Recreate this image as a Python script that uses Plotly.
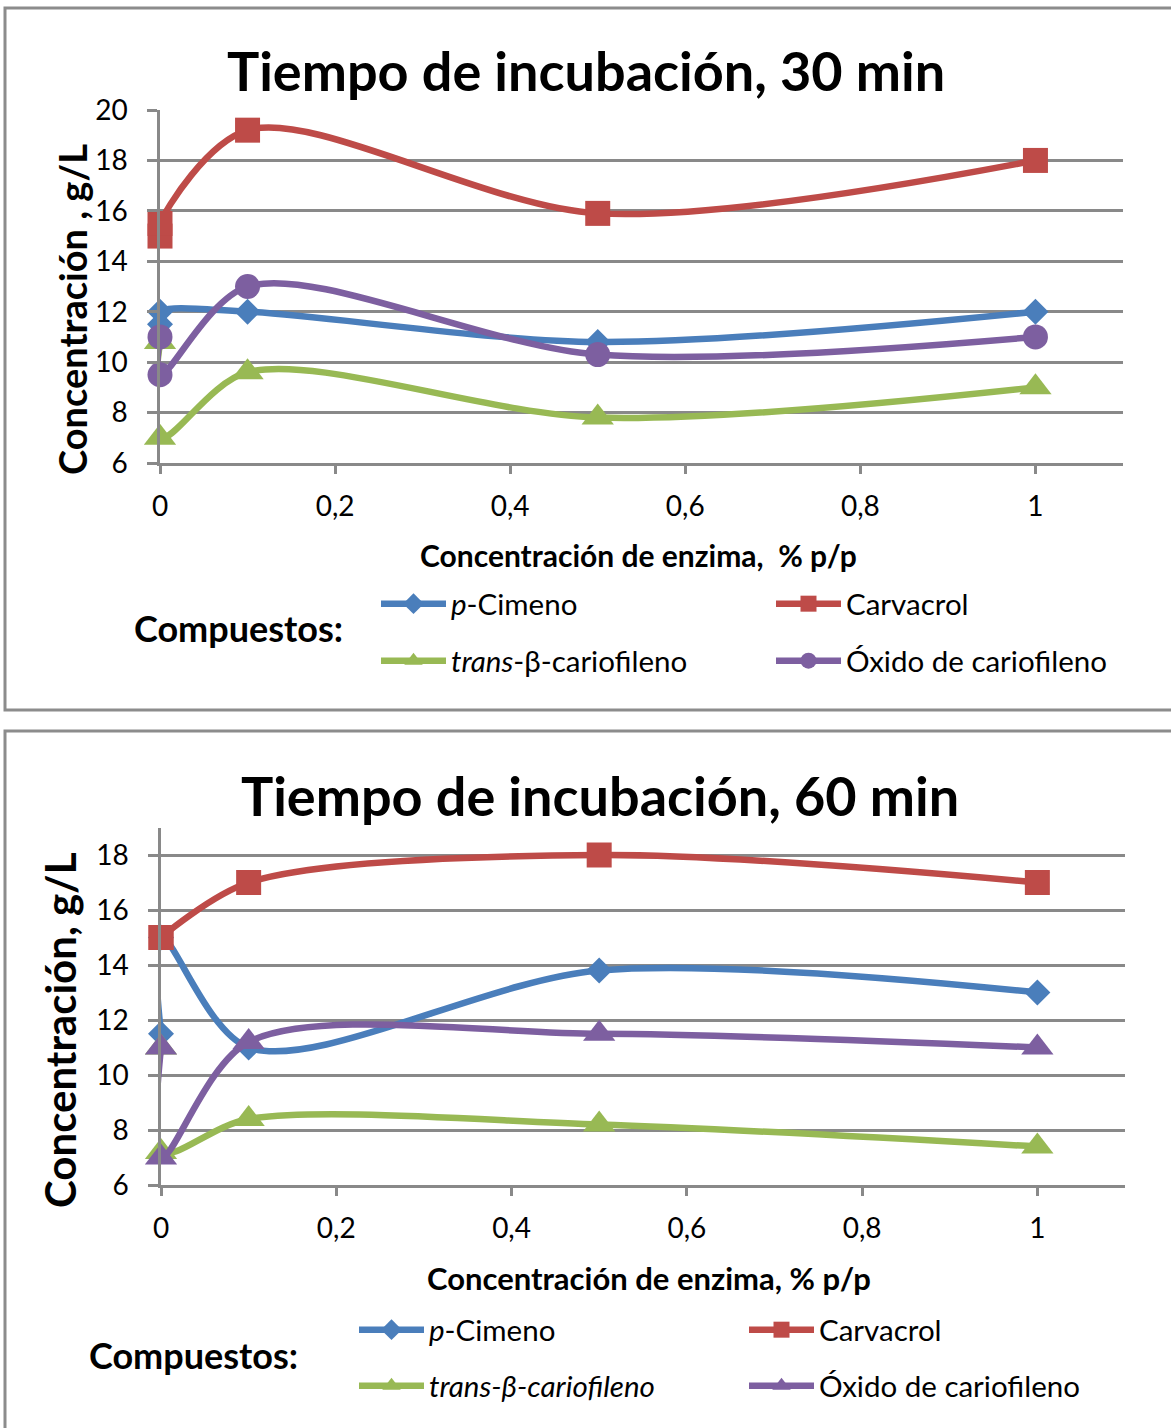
import plotly.graph_objects as go

W, H = 1171, 1428

# ---------------- data ----------------
x_vals = [0, 0, 0.1, 0.5, 1]

# 30 min
cim_30 = [11.5, 12.0, 12.0, 10.8, 12.0]
car_30 = [15.0, 15.5, 19.2, 15.9, 18.0]
tra_30 = [10.8, 7.0, 9.6, 7.8, 9.0]
oxi_30 = [11.0, 9.5, 13.0, 10.3, 11.0]

# 60 min
cim_60 = [11.5, 15.0, 11.0, 13.8, 13.0]
car_60 = [15.0, 15.0, 17.0, 18.0, 17.0]
tra_60 = [11.0, 7.2, 8.4, 8.2, 7.4]
oxi_60 = [11.0, 7.0, 11.2, 11.5, 11.0]

names_30 = ["<i>p</i>-Cimeno", "Carvacrol", "<i>trans</i>-β-cariofileno", "Óxido de cariofileno"]
names_60 = ["<i>p</i>-Cimeno", "Carvacrol", "<i>trans-β-cariofileno</i>", "Óxido de cariofileno"]

colors = ["#4A7EBB", "#BE4B48", "#98B954", "#7D5FA0"]
symbols_30 = ["diamond", "square", "triangle-up", "circle"]
symbols_60 = ["diamond", "square", "triangle-up", "triangle-up"]
sizes_30 = [20, 25, 28, 25]
sizes_60 = [20, 25, 28, 28]

FONT = "Lato"
GRID = "#898989"


def px(p):
    return p / W


def py(p):
    return 1 - p / H


fig = go.Figure()

series_30 = [cim_30, car_30, tra_30, oxi_30]
series_60 = [cim_60, car_60, tra_60, oxi_60]
legends_30 = ["legend", "legend", "legend2", "legend2"]
legends_60 = ["legend3", "legend3", "legend4", "legend4"]

for i, ys in enumerate(series_30):
    fig.add_trace(go.Scatter(
        x=x_vals, y=ys, name=names_30[i], mode="lines+markers", cliponaxis=False,
        line=dict(color=colors[i], width=6.5, shape="spline", smoothing=0.9),
        marker=dict(symbol=symbols_30[i], size=sizes_30[i], color=colors[i], line=dict(width=0)),
        xaxis="x", yaxis="y", legend=legends_30[i]))

for i, ys in enumerate(series_60):
    fig.add_trace(go.Scatter(
        x=x_vals, y=ys, name=names_60[i], mode="lines+markers", cliponaxis=False,
        line=dict(color=colors[i], width=6.5, shape="spline", smoothing=0.9),
        marker=dict(symbol=symbols_60[i], size=sizes_60[i], color=colors[i], line=dict(width=0)),
        xaxis="x2", yaxis="y2", legend=legends_60[i]))

axis_common = dict(showline=True, linecolor=GRID, linewidth=2.5, ticks="outside",
                   tickcolor=GRID, tickwidth=2.5, zeroline=False,
                   tickfont=dict(family=FONT, size=28, color="#000"))

xcommon = dict(axis_common, range=[0, 1.1], tick0=0, dtick=0.2, showgrid=False,
               ticklen=8, ticklabelstandoff=9)
ycommon = dict(axis_common, dtick=2, tick0=6, showgrid=True, gridcolor=GRID, gridwidth=2.5,
               ticklen=10, ticklabelstandoff=14)

fig.update_layout(
    width=W, height=H, margin=dict(l=0, r=0, t=0, b=0, autoexpand=False),
    paper_bgcolor="white", plot_bgcolor="white",
    separators=",.",
    showlegend=True,
    xaxis=dict(xcommon, domain=[px(160), px(1123)], anchor="y"),
    yaxis=dict(ycommon, domain=[py(463), py(110)], range=[6, 20], anchor="x"),
    xaxis2=dict(xcommon, domain=[px(161), px(1125)], anchor="y2"),
    yaxis2=dict(ycommon, domain=[py(1185), py(827.5)], range=[6, 19], anchor="x2"),
)

leg_common = dict(orientation="h", xanchor="left", yanchor="middle",
                  entrywidthmode="pixels", itemwidth=65,
                  font=dict(family=FONT, size=29.5, color="#000"),
                  bgcolor="rgba(0,0,0,0)", itemsizing="trace", tracegroupgap=0)
fig.update_layout(
    legend=dict(leg_common, x=px(376), y=py(604), entrywidth=315),
    legend2=dict(leg_common, x=px(376), y=py(661), entrywidth=315),
    legend3=dict(leg_common, x=px(354), y=py(1330), entrywidth=310),
    legend4=dict(leg_common, x=px(354), y=py(1386), entrywidth=310),
)

annotations = [
    dict(text="<b>Tiempo de incubación, 30 min</b>", x=px(586), y=py(70),
         font=dict(family=FONT, size=54, color="#000")),
    dict(text="<b>Tiempo de incubación, 60 min</b>", x=px(600), y=py(795),
         font=dict(family=FONT, size=54, color="#000")),
    dict(text="<b>Concentración , g/L</b>", x=px(72), y=py(310), textangle=-90,
         font=dict(family=FONT, size=38, color="#000")),
    dict(text="<b>Concentración, g/L</b>", x=px(60), y=py(1030), textangle=-90,
         font=dict(family=FONT, size=42, color="#000")),
    dict(text="<b>Concentración de enzima,&nbsp; % p/p</b>", x=px(638), y=py(555),
         font=dict(family=FONT, size=30, color="#000")),
    dict(text="<b>Concentración de enzima, % p/p</b>", x=px(649), y=py(1278),
         font=dict(family=FONT, size=31, color="#000")),
    dict(text="<b>Compuestos:</b>", x=px(238), y=py(628),
         font=dict(family=FONT, size=36, color="#000")),
    dict(text="<b>Compuestos:</b>", x=px(193), y=py(1355),
         font=dict(family=FONT, size=36, color="#000")),
]
for a in annotations:
    a.update(xref="paper", yref="paper", showarrow=False, xanchor="center", yanchor="middle")
fig.update_layout(annotations=annotations)

frame = dict(type="rect", xref="paper", yref="paper", line=dict(color="#8C8C8C", width=3),
             fillcolor="rgba(0,0,0,0)", layer="below")
fig.update_layout(shapes=[
    dict(frame, x0=px(5), x1=px(1185), y0=py(710), y1=py(8)),
    dict(frame, x0=px(5), x1=px(1185), y0=py(1445), y1=py(731)),
])

fig.write_html("out.html")
